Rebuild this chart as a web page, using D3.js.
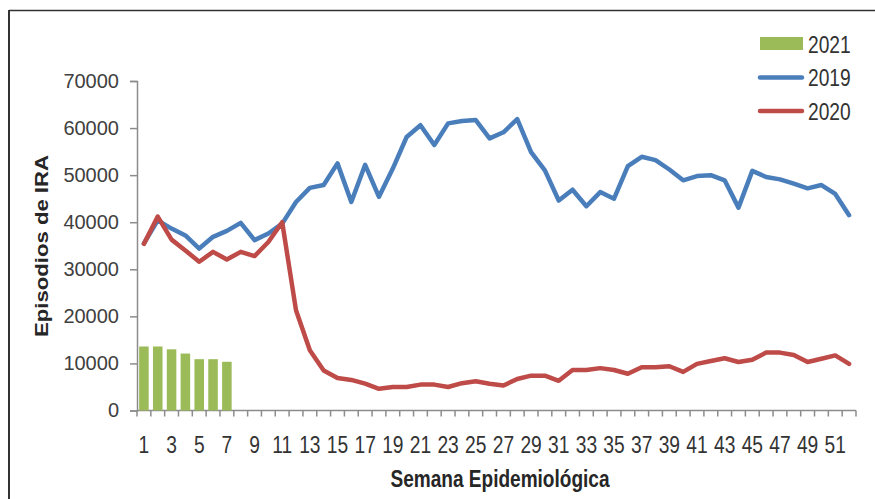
<!DOCTYPE html>
<html>
<head>
<meta charset="utf-8">
<script src="https://cdn.jsdelivr.net/npm/d3@7"></script>
<style>
  html, body { margin: 0; padding: 0; background: #fff; }
  svg { display: block; }
</style>
</head>
<body>
<svg id="chart" width="875" height="499"></svg>
<script>
// Semanas epidemiológicas 1..52
const weeks = d3.range(1, 53);

// Episodios de IRA por semana
const values2019 = [
  35500, 40400, 38650, 37200, 34400, 36900, 38150, 39850, 36200, 37600,
  39700, 44300, 47300, 47900, 52500, 44300, 52200, 45400, 51400, 58100,
  60600, 56400, 61000, 61500, 61700, 57800, 59100, 61900, 54900, 51000,
  44600, 46900, 43400, 46400, 45000, 51900, 53900, 53200, 51200, 48900,
  49800, 50000, 48900, 43100, 50900, 49600, 49100, 48200, 47200, 47900,
  46000, 41500
];
const values2020 = [
  35400, 41200, 36300, 34000, 31600, 33700, 32100, 33700, 32800, 35800,
  40000, 21300, 12800, 8500, 6900, 6500, 5700, 4600, 5000, 5000,
  5500, 5500, 5000, 5800, 6200, 5700, 5300, 6700, 7400, 7400,
  6300, 8600, 8600, 9000, 8600, 7800, 9200, 9200, 9400, 8200,
  9900, 10500, 11100, 10300, 10800, 12300, 12300, 11800, 10300, 11000,
  11700, 9900
];
const values2021 = [13600, 13600, 13000, 12100, 10900, 10900, 10350];

const yTicks = [0, 10000, 20000, 30000, 40000, 50000, 60000, 70000];
const xTickLabels = weeks.filter(w => w % 2 === 1);

const legendItems = [
  { label: "2021", kind: "bar",  color: "#9BBB59" },
  { label: "2019", kind: "line", color: "#4A7EBB" },
  { label: "2020", kind: "line", color: "#BE4B48" }
];

const svg = d3.select("#chart");
const plot = { left: 137, right: 856, top: 81, bottom: 410.5 };

const sans = "'Liberation Sans', Arial, sans-serif";

// Outer frame (left and top edges)
svg.append("line").attr("x1", 9).attr("x2", 9).attr("y1", 10).attr("y2", 499)
  .attr("stroke", "#333").attr("stroke-width", 2);
svg.append("line").attr("x1", 9).attr("x2", 875).attr("y1", 10.5).attr("y2", 10.5)
  .attr("stroke", "#333").attr("stroke-width", 1.5);

const x = d3.scaleBand().domain(weeks).range([plot.left, plot.right]).paddingInner(0.31).paddingOuter(0.155);
const xc = d3.scalePoint().domain(weeks).range([plot.left, plot.right]).padding(0.5);
const y = d3.scaleLinear().domain([0, 70000]).range([plot.bottom, plot.top]);

// Y axis
const yAxis = svg.append("g")
  .attr("transform", `translate(${plot.left},0)`)
  .call(d3.axisLeft(y).tickValues(yTicks).tickSize(7).tickPadding(11).tickFormat(d3.format("d")));
yAxis.select(".domain").attr("stroke", "#8c8c8c").attr("stroke-width", 1.5);
yAxis.selectAll(".tick line").attr("stroke", "#8c8c8c").attr("stroke-width", 1.5);
yAxis.selectAll(".tick text")
  .attr("font-family", sans).attr("font-size", 20).attr("fill", "#404040");

// X axis: tick marks at week boundaries, labels on odd weeks
const xAxisG = svg.append("g").attr("transform", `translate(0,${plot.bottom})`);
xAxisG.append("line").attr("x1", plot.left).attr("x2", plot.right)
  .attr("stroke", "#8c8c8c").attr("stroke-width", 1.5);
const step = xc.step();
xAxisG.selectAll("line.tk").data(d3.range(0, weeks.length + 1)).join("line")
  .attr("class", "tk")
  .attr("x1", i => plot.left + i * step).attr("x2", i => plot.left + i * step)
  .attr("y1", 0).attr("y2", 6)
  .attr("stroke", "#8c8c8c").attr("stroke-width", 1.5);
xAxisG.selectAll("text").data(xTickLabels).join("text")
  .attr("transform", d => `translate(${xc(d)},42) scale(0.8,1)`)
  .attr("text-anchor", "middle")
  .attr("font-family", sans).attr("font-size", 24).attr("fill", "#333")
  .text(d => d);

// Bars 2021
svg.append("g").selectAll("rect").data(values2021).join("rect")
  .attr("x", (d, i) => x(weeks[i]))
  .attr("width", x.bandwidth())
  .attr("y", d => y(d))
  .attr("height", d => y(0) - y(d))
  .attr("fill", "#9BBB59");

// Lines 2019 and 2020
const line = d3.line().x((d, i) => xc(weeks[i])).y(d => y(d));
svg.append("path").datum(values2019).attr("d", line)
  .attr("fill", "none").attr("stroke", "#4A7EBB").attr("stroke-width", 4.5)
  .attr("stroke-linejoin", "round").attr("stroke-linecap", "round");
svg.append("path").datum(values2020).attr("d", line)
  .attr("fill", "none").attr("stroke", "#BE4B48").attr("stroke-width", 4.5)
  .attr("stroke-linejoin", "round").attr("stroke-linecap", "round");

// Axis titles
svg.append("text")
  .attr("transform", "translate(48,246) rotate(-90)")
  .attr("text-anchor", "middle")
  .attr("font-family", sans).attr("font-weight", "bold").attr("font-size", 18)
  .attr("textLength", 182).attr("lengthAdjust", "spacingAndGlyphs")
  .attr("fill", "#262626")
  .text("Episodios de IRA");
svg.append("text")
  .attr("x", 500).attr("y", 487)
  .attr("text-anchor", "middle")
  .attr("font-family", sans).attr("font-weight", "bold").attr("font-size", 23)
  .attr("textLength", 219).attr("lengthAdjust", "spacingAndGlyphs")
  .attr("fill", "#262626")
  .text("Semana Epidemiológica");

// Legend
const lg = svg.append("g");
legendItems.forEach((item, i) => {
  const cy = 44 + i * 33.5;
  if (item.kind === "bar") {
    lg.append("rect").attr("x", 760).attr("y", cy - 7).attr("width", 43).attr("height", 13)
      .attr("fill", item.color);
  } else {
    lg.append("line").attr("x1", 760).attr("x2", 802).attr("y1", cy).attr("y2", cy)
      .attr("stroke", item.color).attr("stroke-width", 4.5).attr("stroke-linecap", "round");
  }
  lg.append("text").attr("transform", `translate(808,${cy}) scale(0.8,1)`).attr("dy", "0.36em")
    .attr("font-family", sans).attr("font-size", 24).attr("fill", "#333")
    .text(item.label);
});
</script>
</body>
</html>
